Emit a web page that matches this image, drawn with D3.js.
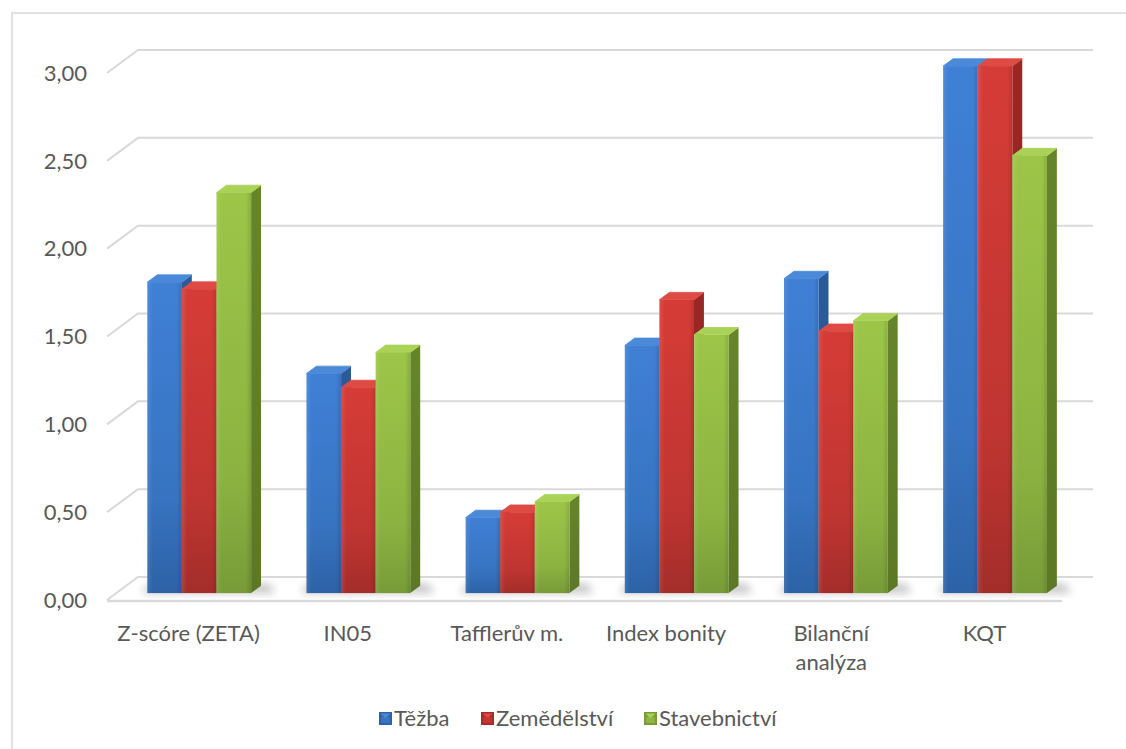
<!DOCTYPE html>
<html>
<head>
<meta charset="utf-8">
<script src="https://cdn.jsdelivr.net/npm/d3@7"></script>
<style>
  html, body { margin: 0; padding: 0; background: #fff; }
  svg { display: block; }
  text { font-family: Lato, "Open Sans", sans-serif; fill: #595959; }
</style>
</head>
<body>
<svg id="chart" width="1126" height="749"></svg>
<script>
// Categories (methods) and series (sectors)
const categories = ["Z-scóre (ZETA)", "IN05", "Tafflerův m.", "Index bonity", "Bilanční analýza", "KQT"];
const categoryLines = [["Z-scóre (ZETA)"], ["IN05"], ["Tafflerův m."], ["Index bonity"], ["Bilanční", "analýza"], ["KQT"]];
const seriesNames = ["Těžba", "Zemědělství", "Stavebnictví"];
const tezba       = [1.77, 1.25, 0.43, 1.41, 1.79, 3.00];
const zemedelstvi = [1.73, 1.17, 0.46, 1.67, 1.49, 3.00];
const stavebnictvi = [2.28, 1.37, 0.52, 1.47, 1.55, 2.49];
const yTicks = [0, 0.5, 1, 1.5, 2, 2.5, 3];

const seriesValues = [tezba, zemedelstvi, stavebnictvi];
const palette = [
  { top: "#4b8ad9", light: "#3f80d6", dark: "#2d62a6", side: "#29558e", shade: "#2a5a98" },
  { top: "#de4a44", light: "#d63c37", dark: "#a32d2a", side: "#8a2421", shade: "#982825" },
  { top: "#aad257", light: "#9cc648", dark: "#789b38", side: "#5c7826", shade: "#66852b" }
];

const svg = d3.select("#chart");
const defs = svg.append("defs");
const FS = 22;

// 3D depth offsets of the plot box
const DX = 31, DY = -23;
const off = d => [DX * d, DY * d];
const dFront = 0.30, dBack = 0.62;

const x = d3.scaleBand().domain(categories).range([107, 1062]).paddingInner(0).paddingOuter(0);
const inner = d3.scaleBand().domain(seriesNames).range([0, x.bandwidth()]).paddingInner(0).paddingOuter(0.8).align(0.56);
const y = d3.scaleLinear().domain([0, 3]).range([600, 73]);

// Gradients per series
palette.forEach((p, i) => {
  const g = defs.append("linearGradient").attr("id", "front" + i)
    .attr("x1", 0).attr("y1", 0).attr("x2", 0).attr("y2", 1);
  g.append("stop").attr("offset", "0%").attr("stop-color", p.light);
  g.append("stop").attr("offset", "70%").attr("stop-color", d3.interpolateRgb(p.light, p.dark)(0.45));
  g.append("stop").attr("offset", "100%").attr("stop-color", p.dark);
  const h = defs.append("linearGradient").attr("id", "hl" + i)
    .attr("x1", 0).attr("y1", 0).attr("x2", 1).attr("y2", 0);
  h.append("stop").attr("offset", "0%").attr("stop-color", "#fff").attr("stop-opacity", 0.10);
  h.append("stop").attr("offset", "15%").attr("stop-color", "#fff").attr("stop-opacity", 0.0);
  h.append("stop").attr("offset", "85%").attr("stop-color", "#000").attr("stop-opacity", 0.0);
  h.append("stop").attr("offset", "100%").attr("stop-color", "#000").attr("stop-opacity", 0.12);
  const s = defs.append("linearGradient").attr("id", "side" + i)
    .attr("x1", 0).attr("y1", 0).attr("x2", 0).attr("y2", 1);
  s.append("stop").attr("offset", "0%").attr("stop-color", p.shade);
  s.append("stop").attr("offset", "100%").attr("stop-color", p.side);
});
defs.append("filter").attr("id", "blur").attr("x", "-50%").attr("y", "-50%").attr("width", "200%").attr("height", "200%")
  .append("feGaussianBlur").attr("stdDeviation", 4);

// Outer frame
svg.append("rect").attr("x", 12).attr("y", 13).attr("width", 1200).attr("height", 800)
  .attr("fill", "none").attr("stroke", "#d9d9d9").attr("stroke-width", 1.5);

const gridColor = "#d9d9d9";
const [bx, by] = off(1);
const xLeft = x.range()[0], xRight = x.range()[1];

// Back wall and side wall gridlines
const grid = svg.append("g");
yTicks.forEach(t => {
  if (t === 0) return;
  grid.append("path")
    .attr("d", `M${xLeft},${y(t)}L${xLeft + bx},${y(t) + by}L${xRight + bx},${y(t) + by}`)
    .attr("fill", "none").attr("stroke", gridColor).attr("stroke-width", 2);
});
// Floor
grid.append("path")
  .attr("d", `M${xLeft},${y(0)}L${xLeft + bx},${y(0) + by}L${xRight + bx},${y(0) + by}`)
  .attr("fill", "none").attr("stroke", gridColor).attr("stroke-width", 2);
grid.append("line").attr("x1", xLeft).attr("x2", xRight).attr("y1", y(0) + 1).attr("y2", y(0) + 1)
  .attr("stroke", gridColor).attr("stroke-width", 2.5);

// Y axis labels
const fmt = v => d3.format(".2f")(v).replace(".", ",");
svg.append("g").selectAll("text").data(yTicks).join("text")
  .attr("x", 87).attr("y", d => y(d)).attr("dy", "0.35em")
  .attr("text-anchor", "end").attr("font-size", FS).text(fmt);

// Bars
const bars = [];
categories.forEach((c, ci) => {
  seriesNames.forEach((s, si) => {
    bars.push({ c, ci, s, si, v: seriesValues[si][ci] });
  });
});

const [f1x, f1y] = off(dFront);
const [f2x, f2y] = off(dBack);

// Soft floor shadows
const shadowG = svg.append("g").attr("filter", "url(#blur)").attr("opacity", 0.35);
categories.forEach(c => {
  const gx0 = x(c) + inner(seriesNames[0]);
  const gx1 = x(c) + inner(seriesNames[2]) + inner.bandwidth();
  shadowG.append("path")
    .attr("d", `M${gx0 + f1x - 6},${y(0) + f1y}L${gx1 + f2x + 14},${y(0) + f1y}L${gx1 + f2x + 8},${y(0) + f2y - 2}L${gx0 + f2x - 8},${y(0) + f2y - 2}Z`)
    .attr("fill", "#555");
});

const barG = svg.append("g");
bars.forEach(b => {
  const x0 = x(b.c) + inner(b.s);
  const w = inner.bandwidth();
  const yt = y(b.v), yb = y(0);
  const g = barG.append("g");
  // side face
  g.append("path")
    .attr("d", `M${x0 + w + f1x},${yt + f1y}L${x0 + w + f2x},${yt + f2y}L${x0 + w + f2x},${yb + f2y}L${x0 + w + f1x},${yb + f1y}Z`)
    .attr("fill", `url(#side${b.si})`);
  // top face
  g.append("path")
    .attr("d", `M${x0 + f1x},${yt + f1y}L${x0 + w + f1x},${yt + f1y}L${x0 + w + f2x},${yt + f2y}L${x0 + f2x},${yt + f2y}Z`)
    .attr("fill", palette[b.si].top).attr("stroke", palette[b.si].top).attr("stroke-width", 0.8)
    .attr("stroke-linejoin", "round");
  // front face
  g.append("rect")
    .attr("x", x0 + f1x).attr("y", yt + f1y).attr("width", w).attr("height", yb - yt)
    .attr("fill", `url(#front${b.si})`);
  g.append("rect")
    .attr("x", x0 + f1x).attr("y", yt + f1y).attr("width", w).attr("height", yb - yt)
    .attr("fill", `url(#hl${b.si})`);
});

// Category labels
const catG = svg.append("g");
categories.forEach((c, ci) => {
  const cx = x(c) + x.bandwidth() / 2 + 2 + (categoryLines[ci].length > 1 ? 6 : 0);
  const t = catG.append("text")
    .attr("x", cx).attr("y", 641)
    .attr("text-anchor", "middle").attr("font-size", FS);
  categoryLines[ci].forEach((line, li) => {
    t.append("tspan").attr("x", cx).attr("dy", li === 0 ? 0 : 29).text(line);
  });
});

// Legend
const legendX = [379, 481, 644];
const legend = svg.append("g");
seriesNames.forEach((s, i) => {
  const lx = legendX[i], ly = 712;
  legend.append("rect").attr("x", lx).attr("y", ly).attr("width", 13).attr("height", 13)
    .attr("fill", palette[i].dark);
  legend.append("path")
    .attr("d", `M${lx + 1.5},${ly + 1.5}L${lx + 11.5},${ly + 1.5}L${lx + 6.5},${ly + 6.5}Z`)
    .attr("fill", palette[i].top);
  legend.append("rect").attr("x", lx + 2).attr("y", ly + 5).attr("width", 9).attr("height", 6)
    .attr("fill", palette[i].light).attr("opacity", 0.6);
  legend.append("text").attr("x", lx + 15).attr("y", ly + 6.5).attr("dy", "0.35em")
    .attr("font-size", FS).text(s);
});
</script>
</body>
</html>
